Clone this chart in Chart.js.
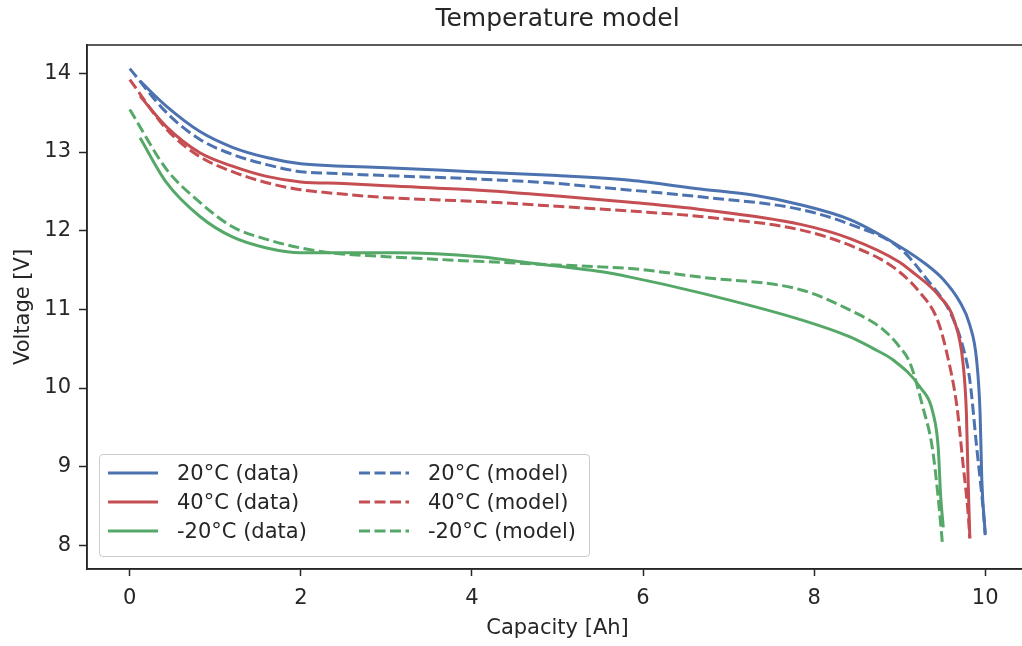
<!DOCTYPE html>
<html>
<head>
<meta charset="utf-8">
<script src="https://cdn.jsdelivr.net/npm/chart.js@4"></script>
<style>
body{margin:0;overflow:hidden;background:#fff;font-family:"DejaVu Sans",sans-serif;}
#wrap{position:relative;width:1040px;height:646px;}
#titulo{position:absolute;left:87px;top:3px;width:941px;text-align:center;font-size:25px;line-height:30px;color:#262626;}
#leyenda{position:absolute;left:99px;top:454px;width:489px;height:101px;border:1px solid #cccccc;border-radius:4px;background:rgba(255,255,255,0.8);}
.item{position:absolute;height:26px;font-size:21px;color:#262626;line-height:26px;white-space:nowrap;}
.item svg{position:absolute;left:0;top:11px;}
.item span{position:absolute;left:69px;top:0;}
</style>
</head>
<body>
<div id="wrap">
  <canvas id="myChart" width="1040" height="646"></canvas>
  <div id="titulo">Temperature model</div>
  <div id="leyenda"></div>
</div>
<script>
// Datos (capacidad en Ah, voltaje en V)
const cap20Data = [0.12, 0.43, 0.82, 1.2, 1.6, 2.0, 2.5, 3.0, 4.0, 5.0, 5.85, 6.67, 7.3, 7.84, 8.42, 9.0, 9.3, 9.51, 9.7, 9.82, 9.9, 9.94, 9.96, 10.0];
const volt20Data = [13.90, 13.58, 13.26, 13.06, 12.93, 12.85, 12.82, 12.80, 12.75, 12.70, 12.64, 12.53, 12.45, 12.33, 12.14, 11.80, 11.58, 11.38, 11.10, 10.80, 10.35, 9.68, 8.83, 8.15];

const cap40Data = [0.12, 0.43, 0.82, 1.2, 1.6, 2.0, 2.5, 3.0, 4.0, 5.0, 5.85, 6.67, 7.84, 8.42, 9.0, 9.12, 9.47, 9.64, 9.74, 9.78, 9.80, 9.82];
const volt40Data = [13.71, 13.32, 12.99, 12.82, 12.69, 12.62, 12.60, 12.57, 12.52, 12.44, 12.36, 12.27, 12.08, 11.90, 11.60, 11.50, 11.16, 10.85, 10.32, 9.68, 8.83, 8.09];

const capM20Data = [0.12, 0.43, 0.82, 1.2, 1.6, 2.0, 2.34, 3.12, 4.09, 4.68, 5.5, 5.85, 6.67, 7.84, 8.42, 8.73, 8.92, 9.24, 9.39, 9.45, 9.48, 9.51];
const voltM20Data = [13.18, 12.61, 12.18, 11.92, 11.78, 11.72, 11.72, 11.72, 11.67, 11.59, 11.48, 11.41, 11.21, 10.87, 10.65, 10.48, 10.36, 10.01, 9.68, 9.25, 8.61, 8.23];

const cap20Model = [0, 0.43, 0.82, 1.2, 1.6, 2.0, 2.34, 3.0, 4.0, 5.0, 5.5, 6.67, 7.84, 8.42, 9.0, 9.32, 9.59, 9.74, 9.82, 9.9, 9.98, 10.0];
const volt20Model = [14.06, 13.50, 13.16, 12.97, 12.84, 12.75, 12.73, 12.70, 12.66, 12.60, 12.55, 12.43, 12.27, 12.08, 11.78, 11.38, 10.96, 10.52, 10.10, 9.25, 8.41, 8.13];

const cap40Model = [0, 0.43, 0.82, 1.2, 1.6, 2.0, 2.34, 3.0, 4.09, 5.0, 5.85, 6.67, 7.84, 8.45, 8.92, 9.24, 9.44, 9.55, 9.67, 9.74, 9.80, 9.82];
const volt40Model = [13.92, 13.29, 12.94, 12.75, 12.61, 12.52, 12.48, 12.42, 12.37, 12.31, 12.25, 12.18, 12.01, 11.80, 11.54, 11.21, 10.87, 10.45, 9.76, 9.04, 8.41, 8.09];

const capM20Model = [0, 0.43, 0.82, 1.2, 1.6, 2.0, 2.34, 3.0, 3.51, 4.68, 5.5, 5.85, 6.67, 7.84, 8.42, 8.81, 9.0, 9.12, 9.27, 9.38, 9.45, 9.50];
const voltM20Model = [13.54, 12.78, 12.36, 12.05, 11.89, 11.78, 11.72, 11.67, 11.64, 11.58, 11.54, 11.52, 11.41, 11.25, 10.99, 10.74, 10.52, 10.32, 9.76, 9.25, 8.61, 8.02];

const xTicks = [0, 2, 4, 6, 8, 10];
const yTicks = [8, 9, 10, 11, 12, 13, 14];

const etiquetas = ['20°C (data)', '40°C (data)', '-20°C (data)', '20°C (model)', '40°C (model)', '-20°C (model)'];
const colores = ['#4C72B0', '#C44E52', '#55A868', '#4C72B0', '#C44E52', '#55A868'];
const capacidades = [cap20Data, cap40Data, capM20Data, cap20Model, cap40Model, capM20Model];
const voltajes = [volt20Data, volt40Data, voltM20Data, volt20Model, volt40Model, voltM20Model];

const gris = '#262626';
const fuente = '"DejaVu Sans", sans-serif';

function puntos(xs, ys) {
    return xs.map((x, i) => ({x: x, y: ys[i]}));
}

const datasets = etiquetas.map((et, i) => ({
    label: et,
    data: puntos(capacidades[i], voltajes[i]),
    borderColor: colores[i],
    borderWidth: 3,
    borderDash: i >= 3 ? [11, 4.5] : [],
    pointRadius: 0,
    fill: false,
    cubicInterpolationMode: 'monotone'
}));

//Marco completo alrededor del area
const marco = {
    id: 'marco',
    afterDraw(chart) {
        const {ctx, chartArea: a} = chart;
        ctx.save();
        ctx.strokeStyle = gris;
        ctx.lineWidth = 1.5;
        ctx.strokeRect(a.left, a.top, a.right - a.left, a.bottom - a.top);
        ctx.restore();
    }
};

const config = {
    type: 'line',
    data: {datasets: datasets},
    options: {
        responsive: false,
        animation: false,
        devicePixelRatio: 1,
        layout: {padding: {top: 45, right: 12, left: 0, bottom: 0}},
        plugins: {
            legend: {display: false},
            tooltip: {enabled: false},
            title: {display: false}
        },
        scales: {
            x: {
                type: 'linear',
                min: -0.5,
                max: 10.5,
                afterBuildTicks: s => { s.ticks = xTicks.map(v => ({value: v})); },
                afterFit: s => { s.height = 77; },
                grid: {drawOnChartArea: false, tickLength: 7, tickColor: gris, tickWidth: 1.5},
                border: {color: gris, width: 1.5},
                ticks: {color: gris, font: {family: fuente, size: 21}, padding: 10, maxRotation: 0},
                title: {display: true, text: 'Capacity [Ah]', color: gris, font: {family: fuente, size: 21}, padding: {top: 0, bottom: 5}}
            },
            y: {
                type: 'linear',
                min: 7.7,
                max: 14.36,
                afterBuildTicks: s => { s.ticks = yTicks.map(v => ({value: v})); },
                afterFit: s => { s.width = 87; },
                grid: {drawOnChartArea: false, tickLength: 8, tickColor: gris, tickWidth: 1.5},
                border: {color: gris, width: 1.5},
                ticks: {color: gris, font: {family: fuente, size: 21}, padding: 8},
                title: {display: true, text: 'Voltage [V]', color: gris, font: {family: fuente, size: 21}, padding: {top: 11, bottom: 0}}
            }
        }
    },
    plugins: [marco]
};

const myChart = new Chart(document.getElementById('myChart'), config);

//Leyenda en dos columnas
const leyenda = document.getElementById('leyenda');
etiquetas.forEach((et, i) => {
    const col = i < 3 ? 0 : 1;
    const fila = i % 3;
    const item = document.createElement('div');
    item.className = 'item';
    item.style.left = (col === 0 ? 8 : 259) + 'px';
    item.style.top = (5 + fila * 29) + 'px';
    const dash = i >= 3 ? ' stroke-dasharray="11 4.5"' : '';
    item.innerHTML = '<svg width="50" height="4"><line x1="0" y1="2" x2="50" y2="2" stroke="' + colores[i] +
        '" stroke-width="3"' + dash + '/></svg><span>' + et + '</span>';
    leyenda.appendChild(item);
});
</script>
</body>
</html>
